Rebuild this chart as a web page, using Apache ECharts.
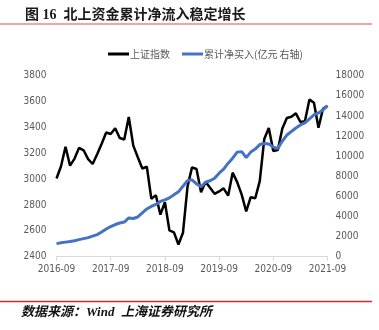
<!DOCTYPE html>
<html>
<head>
<meta charset="utf-8">
<script src="https://cdn.jsdelivr.net/npm/echarts@6/dist/echarts.min.js"></script>
<style>
  html, body { margin: 0; padding: 0; background: #ffffff; }
  #chart { width: 379px; height: 330px; }
</style>
</head>
<body>
<div id="chart"></div>
<script>
// Month-end dates, 2016-09 .. 2021-09
var months = [
  '2016-09','2016-10','2016-11','2016-12',
  '2017-01','2017-02','2017-03','2017-04','2017-05','2017-06','2017-07','2017-08','2017-09','2017-10','2017-11','2017-12',
  '2018-01','2018-02','2018-03','2018-04','2018-05','2018-06','2018-07','2018-08','2018-09','2018-10','2018-11','2018-12',
  '2019-01','2019-02','2019-03','2019-04','2019-05','2019-06','2019-07','2019-08','2019-09','2019-10','2019-11','2019-12',
  '2020-01','2020-02','2020-03','2020-04','2020-05','2020-06','2020-07','2020-08','2020-09','2020-10','2020-11','2020-12',
  '2021-01','2021-02','2021-03','2021-04','2021-05','2021-06','2021-07','2021-08','2021-09'
];

// 上证指数 month-end close
var sseIndex = [
  3005, 3100, 3250, 3104,
  3159, 3242, 3223, 3155, 3117, 3192, 3273, 3361, 3349, 3393, 3318, 3307,
  3481, 3259, 3169, 3082, 3096, 2847, 2876, 2725, 2821, 2603, 2588, 2494,
  2585, 2941, 3091, 3078, 2899, 2979, 2933, 2886, 2905, 2929, 2872, 3050,
  2977, 2880, 2750, 2860, 2852, 2985, 3310, 3396, 3218, 3225, 3392, 3473,
  3483, 3509, 3442, 3447, 3615, 3591, 3397, 3544, 3568
];

// 北向资金累计净买入 (亿元)
var northCum = [
  1300, 1380, 1450, 1510,
  1590, 1700, 1800, 1900, 2050, 2200, 2450, 2750, 3000, 3200, 3350, 3450,
  3850, 3800, 3950, 4350, 4750, 5000, 5200, 5500, 5650, 5850, 6150, 6450,
  7000, 7550, 7650, 7250, 6950, 7400, 7550, 7800, 8300, 8700, 9300, 9800,
  10400, 10450, 9850, 10400, 10700, 11150, 11250, 11200, 10900, 10750, 11500, 12100,
  12450, 12800, 13100, 13300, 13700, 14100, 14300, 14600, 15000
];

var leftTicks = { min: 2400, max: 3800, interval: 200 };
var rightTicks = { min: 0, max: 18000, interval: 2000 };

var narrow = "'Liberation Sans Narrow', 'DejaVu Sans Condensed', 'Liberation Sans', sans-serif";
var cjkSerif = "'Liberation Serif', 'Noto Sans CJK SC', serif";
var plainNumber = function (v) { return String(v); };

var chart = echarts.init(document.getElementById('chart'), null, { renderer: 'canvas' });

chart.setOption({
  animation: false,
  backgroundColor: '#ffffff',
  title: {
    text: '图 16  北上资金累计净流入稳定增长',
    left: 20,
    top: 3,
    textStyle: { fontFamily: cjkSerif, fontSize: 14, fontWeight: 'bold', color: '#1a1a1a' }
  },
  legend: {
    top: 44,
    left: 103,
    itemWidth: 21,
    itemHeight: 3,
    itemGap: 12,
    icon: 'rect',
    textStyle: { fontFamily: "'Noto Sans CJK SC', sans-serif", fontSize: 10, color: '#595959', padding: [0, 0, 0, -4] },
    data: ['上证指数', '累计净买入(亿元 右轴)']
  },
  grid: { left: 56.5, right: 51.5, top: 75.7, bottom: 73.3, containLabel: false },
  xAxis: {
    type: 'category',
    data: months,
    boundaryGap: false,
    axisLine: { lineStyle: { color: '#d9d9d9', width: 1 } },
    axisTick: { show: true, interval: 11, length: 4, lineStyle: { color: '#d9d9d9' } },
    axisLabel: { interval: 11, color: '#595959', fontFamily: narrow, fontSize: 10, margin: 8 },
    splitLine: { show: false }
  },
  yAxis: [
    {
      type: 'value',
      min: leftTicks.min, max: leftTicks.max, interval: leftTicks.interval,
      axisLine: { show: false },
      axisTick: { show: false },
      splitLine: { show: false },
      axisLabel: { color: '#595959', fontFamily: narrow, fontSize: 10, margin: 10, formatter: plainNumber }
    },
    {
      type: 'value',
      min: rightTicks.min, max: rightTicks.max, interval: rightTicks.interval,
      position: 'right',
      axisLine: { show: false },
      axisTick: { show: false },
      splitLine: { show: false },
      axisLabel: { color: '#595959', fontFamily: narrow, fontSize: 10, margin: 8, formatter: plainNumber }
    }
  ],
  series: [
    {
      name: '上证指数',
      type: 'line',
      data: sseIndex,
      yAxisIndex: 0,
      symbol: 'none',
      lineStyle: { color: '#000000', width: 2.5 },
      itemStyle: { color: '#000000' },
      z: 2
    },
    {
      name: '累计净买入(亿元 右轴)',
      type: 'line',
      data: northCum,
      yAxisIndex: 1,
      symbol: 'none',
      lineStyle: { color: '#4472c4', width: 3 },
      itemStyle: { color: '#4472c4' },
      z: 3
    }
  ],
  graphic: [
    {
      type: 'line',
      shape: { x1: 0, y1: 24, x2: 372, y2: 24 },
      style: { stroke: '#f4a3a3', lineWidth: 2 }
    },
    {
      type: 'line',
      shape: { x1: 0, y1: 301.5, x2: 372, y2: 301.5 },
      style: { stroke: '#d9272e', lineWidth: 1.5 }
    },
    {
      type: 'text',
      left: 21,
      top: 306,
      style: {
        text: '数据来源：Wind  上海证券研究所',
        font: "italic bold 13px 'Liberation Serif', 'Noto Sans CJK SC', serif",
        fill: '#111111'
      }
    }
  ]
});
</script>
</body>
</html>
